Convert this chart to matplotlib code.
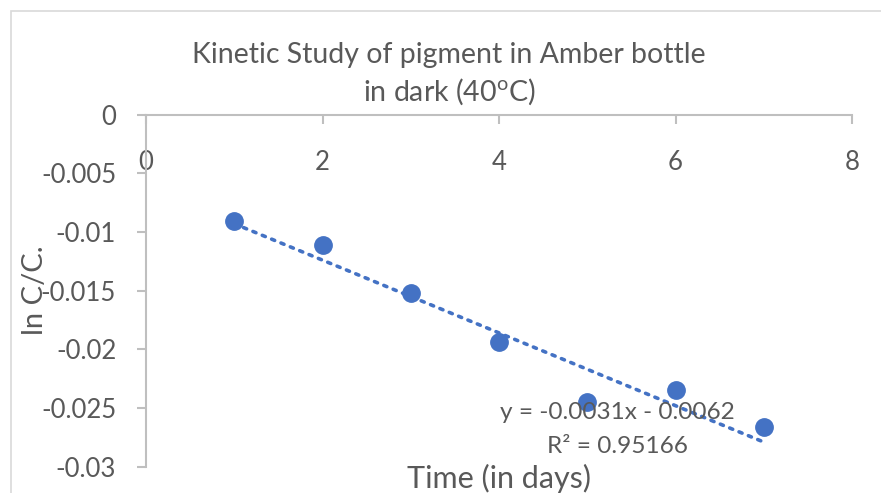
import matplotlib
matplotlib.use("Agg")
import matplotlib.pyplot as plt
from matplotlib.patches import Rectangle
import numpy as np

# ---- data ----
days = [1, 2, 3, 4, 5, 6, 7]
ln_ratio = [-0.0091, -0.0111, -0.0152, -0.0194, -0.0245, -0.0235, -0.0266]
trend_slope = -0.0031
trend_intercept = -0.0062
x_ticks = [0, 2, 4, 6, 8]
y_ticks = [0, -0.005, -0.01, -0.015, -0.02, -0.025, -0.03]
y_tick_labels = ["0", "-0.005", "-0.01", "-0.015", "-0.02", "-0.025", "-0.03"]
title_line1 = "Kinetic Study of pigment in Amber bottle"
title_line2 = "in dark (40$^{\\mathrm{o}}$C)"
x_label = "Time (in days)"
y_label = "ln C/C."
eq_text = "y = -0.0031x - 0.0062"
r2_text = "R\u00b2 = 0.95166"

plt.rcParams["font.family"] = ["Lato", "DejaVu Sans"]
plt.rcParams["mathtext.fontset"] = "custom"
plt.rcParams["mathtext.rm"] = "Lato"
plt.rcParams["mathtext.it"] = "Lato:italic"
plt.rcParams["mathtext.bf"] = "Lato:bold"

W, H = 881, 493
fig = plt.figure(figsize=(W / 100, H / 100), dpi=100)
fig.patch.set_facecolor("white")

# chart border
fig.patches.append(Rectangle((11 / W, -0.2), 1.2, 1.2 - 11 / H,
                             transform=fig.transFigure, fill=False,
                             edgecolor="#D9D9D9", linewidth=1.2))

left, right, top, bottom = 146, 852, 114.6, 466.7
ax = fig.add_axes([left / W, 1 - bottom / H, (right - left) / W, (bottom - top) / H])
ax.set_facecolor("none")

blue = "#4472C4"
text_col = "#595959"
axis_col = "#BFBFBF"

# trendline
xt = np.array([min(days), max(days)], dtype=float)
ax.plot(xt, trend_slope * xt + trend_intercept, linestyle=(0, (0.9, 1.9)),
        color=blue, linewidth=2.6, dash_capstyle="round", zorder=2)
ax.plot(days, ln_ratio, "o", color=blue, markersize=12.5, zorder=3)

ax.set_xlim(0, 8)
ax.set_ylim(-0.03, 0)
ax.set_xticks(x_ticks)
ax.set_xticklabels([str(t) for t in x_ticks])
ax.set_yticks(y_ticks)
ax.set_yticklabels(y_tick_labels)

ax.spines["bottom"].set_position(("data", 0))
ax.spines["top"].set_visible(False)
ax.spines["right"].set_visible(False)
for s in ("bottom", "left"):
    ax.spines[s].set_color(axis_col)
    ax.spines[s].set_linewidth(1.5)

ax.tick_params(axis="x", direction="out", length=6.5, width=1.5, color=axis_col,
               labelsize=18.5, labelcolor=text_col, pad=19)
ax.tick_params(axis="y", direction="out", length=6.5, width=1.5, color=axis_col,
               labelsize=18.5, labelcolor=text_col, pad=15)

ax.text(0.5, -0.032, x_label, transform=ax.transAxes, ha="center", va="center",
        fontsize=22, color=text_col)
fig.text(35 / W, 1 - 290 / H, y_label, rotation=90, ha="center", va="center",
         fontsize=21, color=text_col)

fig.text(449 / W, 1 - 55 / H, title_line1, ha="center", va="center",
         fontsize=20.5, color=text_col)
fig.text(449 / W, 1 - 92 / H, title_line2, ha="center", va="center",
         fontsize=20.5, color=text_col)

ax.text(5.34, -0.0254, eq_text, ha="center", va="center", fontsize=17.6, color=text_col)
ax.text(5.34, -0.0283, r2_text, ha="center", va="center", fontsize=17.6, color=text_col)

fig.savefig("out.png", dpi=100)
